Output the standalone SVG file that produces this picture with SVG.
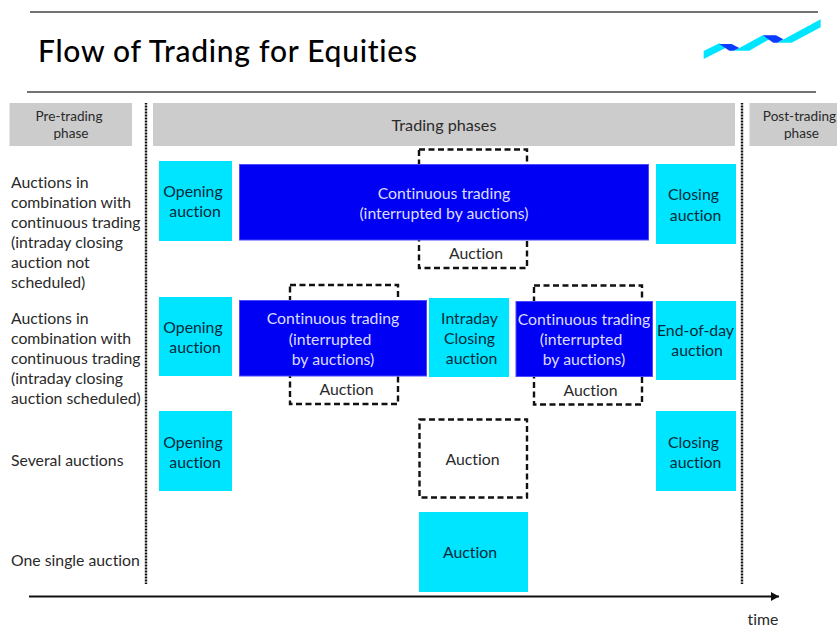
<svg xmlns="http://www.w3.org/2000/svg" width="837" height="627" viewBox="0 0 837 627">
<style>
text{font-family:"Lato","Liberation Sans",sans-serif;font-size:15.8px;fill:#2a2a2a;font-variant-ligatures:none}
.m{text-anchor:middle}
.phase{fill:#ccc}
.pt{font-size:13.6px}
.cy{fill:#00e5ff}
.bl{fill:#0000f5;stroke:#4a4aff;stroke-width:1}
.bt{fill:#dcdcff}
.ct{fill:#002a3a}
.da{fill:#fff;stroke:#111;stroke-width:2.4;stroke-dasharray:6 3.5}
.dot{fill:none;stroke:#111;stroke-width:2.4;stroke-dasharray:1 .5}
.ln{stroke:#444;stroke-width:1.3}
</style>
<defs>
<marker id="arr" markerUnits="userSpaceOnUse" markerWidth="9" markerHeight="9" refX="8" refY="4.5" orient="auto"><path d="M0 0L8 4.5L0 9z" fill="#111"/></marker>
</defs>
<g id="header">
<line class="ln" x1="30" y1="12" x2="818" y2="12"/>
<line class="ln" x1="27" y1="92" x2="816" y2="92"/>
<text x="38" y="62" style="font-size:30px;fill:#000;font-weight:500" textLength="379">Flow of Trading for Equities</text>
<g transform="translate(690 10) scale(.3333)">
<path class="cy" d="M41 123L88 100L108 113L41 147zM130 122L148 114L218 76L238 88L178 122zM262 98L392 28V52L305 98z"/>
<path fill="#0a3cff" d="M88 102H125L148 114L130 122H118zM218 76H258L280 88L262 98H250z"/>
</g>
</g>
<g id="connectors">
<line class="dot" x1="146" y1="103" x2="146" y2="584"/>
<line class="dot" x1="742" y1="103" x2="742" y2="584"/>
<line x1="29" y1="596.5" x2="779" y2="596.5" stroke="#111" stroke-width="2" marker-end="url(#arr)"/>
</g>
<g id="pre-trading"><rect class="phase" x="9.5" y="103" width="122.5" height="43"/><text class="m pt" x="69" y="121">Pre-trading</text><text class="m pt" x="71" y="138">phase</text></g>
<g id="trading"><rect class="phase" x="153" y="103" width="582" height="43"/><text class="m" x="444" y="131" style="font-size:16.2px">Trading phases</text></g>
<g id="post-trading"><rect class="phase" x="749.5" y="103" width="87.5" height="43"/><text class="m pt" x="799.500" y="121">Post-trading</text><text class="m pt" x="801.500" y="138">phase</text></g>
<g id="label-row1"><text x="11" y="188">Auctions in</text><text x="11" y="208">combination with</text><text x="11" y="228">continuous trading</text><text x="11" y="248">(intraday closing</text><text x="11" y="268">auction not</text><text x="11" y="288">scheduled)</text></g>
<g id="label-row2"><text x="11" y="324">Auctions in</text><text x="11" y="344">combination with</text><text x="11" y="363.5">continuous trading</text><text x="11" y="384">(intraday closing</text><text x="11" y="404">auction scheduled)</text></g>
<g id="label-row3"><text x="11" y="466">Several auctions</text></g>
<g id="label-row4"><text x="11" y="566">One single auction</text></g>
<g id="r1-opening"><rect class="cy" x="159" y="161" width="73" height="80"/><text class="m ct" x="193" y="197">Opening</text><text class="m ct" x="195" y="217">auction</text></g>
<g id="r1-auction"><rect class="da" x="419" y="149.500" width="108" height="118.500"/><text class="m" x="476" y="259">Auction</text></g>
<g id="r1-continuous"><rect class="bl" x="239.500" y="164.500" width="409" height="75.500"/><text class="m bt" x="444" y="199">Continuous trading</text><text class="m bt" x="444" y="219">(interrupted by auctions)</text></g>
<g id="r1-closing"><rect class="cy" x="656" y="164" width="80" height="80"/><text class="m ct" x="693.500" y="200">Closing</text><text class="m ct" x="695.500" y="221">auction</text></g>
<g id="r2-opening"><rect class="cy" x="159" y="297" width="73" height="79"/><text class="m ct" x="193" y="333">Opening</text><text class="m ct" x="195" y="353">auction</text></g>
<g id="r2-auction1"><rect class="da" x="290" y="285" width="108" height="119"/><text class="m" x="346.500" y="395">Auction</text></g>
<g id="r2-continuous1"><rect class="bl" x="239.500" y="300.500" width="187" height="75.500"/><text class="m bt" x="333" y="324">Continuous trading</text><text class="m bt" x="330" y="345">(interrupted</text><text class="m bt" x="333" y="365">by auctions)</text></g>
<g id="r2-intraday"><rect class="cy" x="429" y="298" width="80" height="79"/><text class="m ct" x="469.500" y="324">Intraday</text><text class="m ct" x="469.500" y="344">Closing</text><text class="m ct" x="471.500" y="364">auction</text></g>
<g id="r2-auction2"><rect class="da" x="534" y="285.500" width="108" height="119"/><text class="m" x="590.500" y="396">Auction</text></g>
<g id="r2-continuous2"><rect class="bl" x="516" y="301.500" width="136.500" height="75"/><text class="m bt" x="584" y="325">Continuous trading</text><text class="m bt" x="581" y="345">(interrupted</text><text class="m bt" x="584" y="365">by auctions)</text></g>
<g id="r2-endofday"><rect class="cy" x="656" y="301" width="80" height="79"/><text class="m ct" x="695.500" y="336">End-of-day</text><text class="m ct" x="697" y="356">auction</text></g>
<g id="r3-opening"><rect class="cy" x="159" y="411" width="73" height="80"/><text class="m ct" x="193" y="448">Opening</text><text class="m ct" x="195" y="468">auction</text></g>
<g id="r3-auction"><rect class="da" x="419.500" y="419.500" width="107.500" height="78"/><text class="m" x="472.500" y="465">Auction</text></g>
<g id="r3-closing"><rect class="cy" x="656" y="411" width="80" height="80"/><text class="m ct" x="693.500" y="448">Closing</text><text class="m ct" x="695.500" y="468">auction</text></g>
<g id="r4-auction"><rect class="cy" x="419" y="512" width="109" height="80"/><text class="m ct" x="470" y="558">Auction</text></g>
<text id="time" x="763" y="625" class="m">time</text>
</svg>
